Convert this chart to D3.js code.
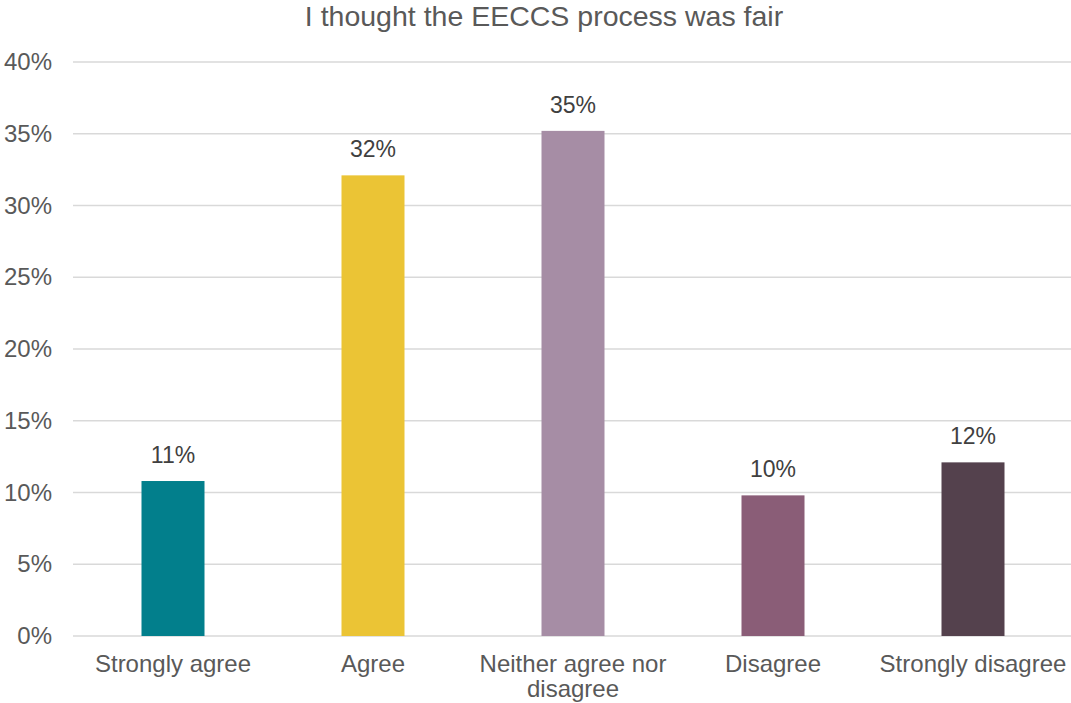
<!DOCTYPE html>
<html>
<head>
<meta charset="utf-8">
<script src="https://cdn.jsdelivr.net/npm/d3@7"></script>
<style>
  html, body { margin: 0; padding: 0; background: #ffffff; }
  svg { display: block; font-family: "Liberation Sans", Arial, sans-serif; }
</style>
</head>
<body>
<svg id="chart" width="1071" height="703"></svg>
<script>
// Survey responses: "I thought the EECCS process was fair"
const categories = ["Strongly agree", "Agree", "Neither agree nor disagree", "Disagree", "Strongly disagree"];
const shares = [0.108, 0.321, 0.352, 0.098, 0.121];
const barColors = ["#027f8c", "#ebc435", "#a68da5", "#8a5d77", "#54414d"];
const yTicks = [0, 0.05, 0.10, 0.15, 0.20, 0.25, 0.30, 0.35, 0.40];
const title = "I thought the EECCS process was fair";

const data = categories.map((c, i) => ({ category: c, value: shares[i], color: barColors[i] }));

const svg = d3.select("#chart");
const margin = { top: 62, right: 0, bottom: 67, left: 73 };
const width = 1071, height = 703;
const innerBottom = height - margin.bottom;

const x = d3.scaleBand()
  .domain(categories)
  .range([margin.left, margin.left + 1000])
  .paddingInner(0.685)
  .paddingOuter(0.3425);

const y = d3.scaleLinear()
  .domain([0, 0.40])
  .range([innerBottom, margin.top]);

const pct = d3.format(".0%");

// Title
svg.append("text")
  .attr("x", 544)
  .attr("y", 26)
  .attr("text-anchor", "middle")
  .attr("font-size", 28.5)
  .attr("fill", "#595959")
  .text(title);

// Horizontal gridlines
svg.append("g")
  .selectAll("line")
  .data(yTicks)
  .join("line")
  .attr("x1", margin.left)
  .attr("x2", width)
  .attr("y1", d => y(d))
  .attr("y2", d => y(d))
  .attr("stroke", "#d9d9d9")
  .attr("stroke-width", 1.5);

// Y axis labels
const yAxis = d3.axisLeft(y).tickValues(yTicks).tickFormat(pct).tickSize(0).tickPadding(21);
const yg = svg.append("g")
  .attr("transform", `translate(${margin.left},0)`)
  .call(yAxis);
yg.select(".domain").remove();
yg.selectAll("text")
  .attr("font-size", 24)
  .attr("font-family", "Liberation Sans, Arial, sans-serif")
  .attr("fill", "#595959");

// Bars
svg.append("g")
  .selectAll("rect")
  .data(data)
  .join("rect")
  .attr("x", d => x(d.category))
  .attr("width", x.bandwidth())
  .attr("y", d => y(d.value))
  .attr("height", d => y(0) - y(d.value))
  .attr("fill", d => d.color);

// Value labels
svg.append("g")
  .selectAll("text")
  .data(data)
  .join("text")
  .attr("x", d => x(d.category) + x.bandwidth() / 2)
  .attr("y", d => y(d.value) - 18)
  .attr("text-anchor", "middle")
  .attr("font-size", 23)
  .attr("fill", "#404040")
  .text(d => pct(d.value));

// Category labels (wrapped to the band step)
function wrap(textSel, maxWidth) {
  textSel.each(function () {
    const text = d3.select(this);
    const words = text.text().split(/\s+/);
    const xPos = text.attr("x");
    text.text(null);
    let line = [];
    let tspan = text.append("tspan").attr("x", xPos).attr("dy", 0);
    words.forEach(w => {
      line.push(w);
      tspan.text(line.join(" "));
      if (tspan.node().getComputedTextLength() > maxWidth && line.length > 1) {
        line.pop();
        tspan.text(line.join(" "));
        line = [w];
        tspan = text.append("tspan").attr("x", xPos).attr("dy", "1.05em").text(w);
      }
    });
  });
}

svg.append("g")
  .selectAll("text")
  .data(data)
  .join("text")
  .attr("x", d => x(d.category) + x.bandwidth() / 2)
  .attr("y", 672)
  .attr("text-anchor", "middle")
  .attr("font-size", 24)
  .attr("fill", "#595959")
  .text(d => d.category)
  .call(wrap, 196);
</script>
</body>
</html>
